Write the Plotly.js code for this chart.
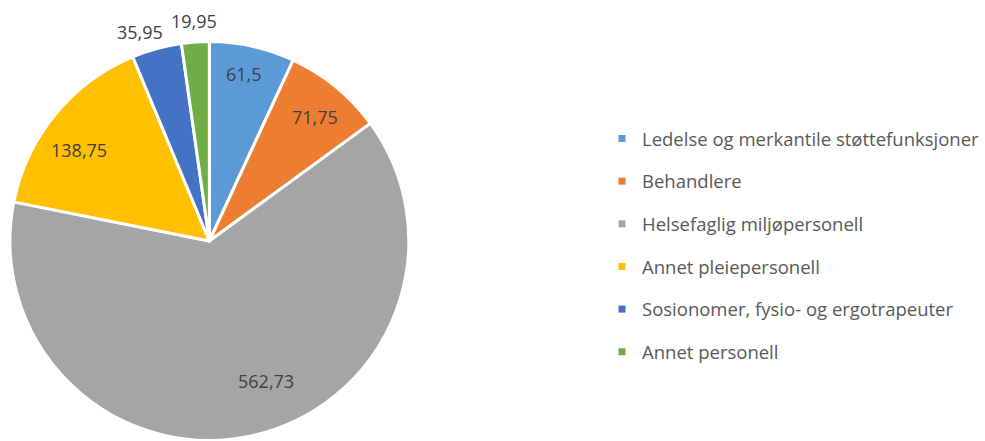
<!DOCTYPE html>
<html><head><meta charset="utf-8">
<script src="https://cdn.plot.ly/plotly-3.0.1.min.js"></script>
<style>html,body{margin:0;padding:0;background:#fff}#chart{width:985px;height:441px}</style>
</head><body><div id="chart"></div>
<script>
const categories = ["Ledelse og merkantile støttefunksjoner","Behandlere","Helsefaglig miljøpersonell","Annet pleiepersonell","Sosionomer, fysio- og ergotrapeuter","Annet personell"];
const values = [61.5, 71.75, 562.73, 138.75, 35.95, 19.95];
const colors = ["#5B9BD5","#ED7D31","#A5A5A5","#FFC000","#4472C4","#70AD47"];
const labelOutside = [false, false, false, false, true, true];

const W = 985, H = 441;
const fontFam = "Open Sans, sans-serif";
const fmt = v => String(v).replace(".", ",");
// pie geometry (layout)
const pieCx = 210, pieCy = 241, pieR = 200, inLabelR = 160, outLabelR = 221;
// small label nudges (px) to mimic the original label placement
const labelXShift = [0, 4, 22, -7, -11, 0];
const labelYShift = [11, 0, 16, -10, -4, 0];

const pie = {
  type: "pie",
  labels: categories,
  values: values,
  textinfo: "none",
  sort: false,
  direction: "clockwise",
  rotation: 0,
  marker: {colors: colors, line: {color: "#ffffff", width: 3}},
  domain: {x: [(pieCx - pieR) / W, (pieCx + pieR) / W], y: [(H - pieCy - pieR) / H, (H - pieCy + pieR) / H]},
  showlegend: false,
  hoverinfo: "label+value"
};
const legendTraces = categories.map((c, i) => ({
  type: "scatter", mode: "markers", x: [null], y: [null], name: c,
  legendgroup: "g" + i,
  marker: {symbol: "square", size: 7, color: colors[i]},
  hoverinfo: "skip"
}));
// data labels placed at each slice's mid angle
const total = values.reduce((a, b) => a + b, 0);
const annotations = [];
let cum = 0;
values.forEach((v, i) => {
  const mid = (cum + v / 2) / total;
  cum += v;
  const th = mid * 2 * Math.PI;
  const r = labelOutside[i] ? outLabelR : inLabelR;
  annotations.push({
    xref: "paper", yref: "paper",
    x: (pieCx + r * Math.sin(th)) / W,
    y: (H - pieCy + r * Math.cos(th)) / H,
    xshift: labelXShift[i], yshift: labelYShift[i],
    text: fmt(v), showarrow: false, xanchor: "center", yanchor: "middle",
    font: {family: fontFam, size: 18, color: "#404040"}
  });
});
const layout = {
  width: W, height: H,
  margin: {l: 0, r: 0, t: 0, b: 0},
  paper_bgcolor: "#ffffff", plot_bgcolor: "rgba(0,0,0,0)",
  xaxis: {visible: false, domain: [0.99, 1]},
  yaxis: {visible: false, domain: [0.99, 1]},
  showlegend: true,
  annotations: annotations,
  legend: {
    x: 604/W, xanchor: "left", y: 1 - 120/H, yanchor: "top",
    font: {family: fontFam, size: 18.5, color: "#595959"},
    traceorder: "grouped", tracegroupgap: 15.6,
    bgcolor: "rgba(0,0,0,0)"
  }
};
Plotly.newPlot("chart", [pie, ...legendTraces], layout, {displayModeBar: false, staticPlot: true});
</script></body></html>
